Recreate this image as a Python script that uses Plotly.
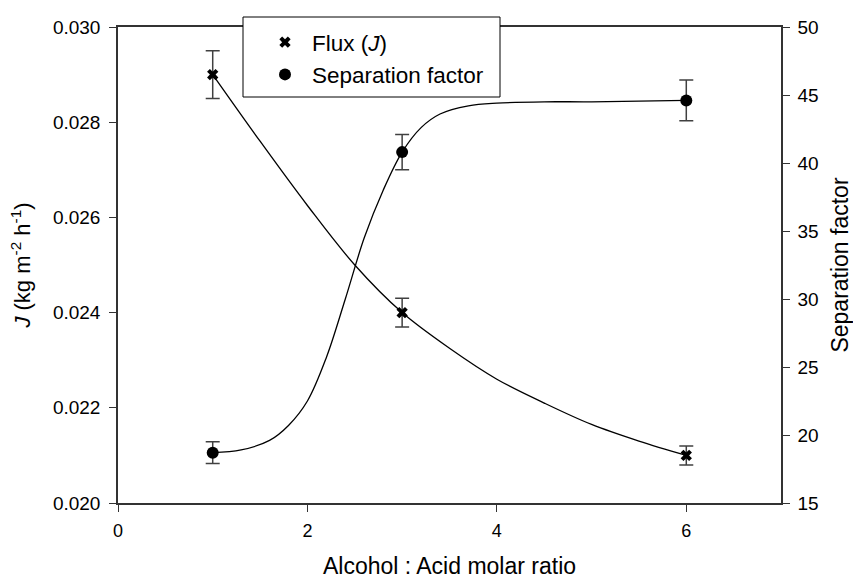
import plotly.graph_objects as go

# Measured data
ratio = [1, 3, 6]
flux = [0.029, 0.024, 0.021]
flux_err = [0.0005, 0.0003, 0.0002]
sep = [18.7, 40.8, 44.6]
sep_err = [0.8, 1.3, 1.5]

# Fitted curves
flux_curve_x = [1, 1.5, 2, 2.5, 3, 3.5, 4, 4.5, 5, 5.5, 6]
flux_curve_y = [0.029, 0.0276, 0.02625, 0.0250, 0.0240, 0.02325, 0.0226, 0.0221, 0.02165, 0.0213, 0.0210]
sep_curve_x = [1, 1.3, 1.6, 1.8, 2.0, 2.2, 2.4, 2.6, 2.8, 3.0, 3.2, 3.4, 3.7, 4.0, 4.5, 5, 6]
sep_curve_y = [18.7, 18.9, 19.6, 20.7, 22.5, 25.7, 30.0, 34.5, 38.0, 40.8, 42.6, 43.6, 44.2, 44.4, 44.5, 44.5, 44.6]

x_ticks = [0, 2, 4, 6]

FONT = "Liberation Sans, Arial, sans-serif"
AX = "#333333"

fig = go.Figure()

fig.add_trace(go.Scatter(x=flux_curve_x, y=flux_curve_y, mode="lines", line=dict(color="black", width=1.3, shape="spline"),
                         showlegend=False, hoverinfo="skip"))
fig.add_trace(go.Scatter(x=sep_curve_x, y=sep_curve_y, mode="lines", line=dict(color="black", width=1.3, shape="spline"),
                         yaxis="y2", showlegend=False, hoverinfo="skip"))

fig.add_trace(go.Scatter(x=ratio, y=flux, mode="markers", name="Flux (<i>J</i>)",
                         marker=dict(symbol="x", size=10, color="black", line=dict(width=0)),
                         error_y=dict(type="data", array=flux_err, color="#404040", thickness=1.5, width=7)))
fig.add_trace(go.Scatter(x=ratio, y=sep, mode="markers", name="Separation factor", yaxis="y2",
                         marker=dict(symbol="circle", size=12, color="black"),
                         error_y=dict(type="data", array=sep_err, color="#404040", thickness=1.5, width=7)))

# legend box
fig.add_shape(type="rect", xref="paper", yref="paper", x0=(243-118)/663, x1=(500-118)/663,
              y0=(503-97)/476, y1=(503-17)/476, fillcolor="white", line=dict(color="black", width=1), layer="above")

fig.update_layout(
    width=853, height=579,
    margin=dict(l=118, r=72, t=27, b=76, autoexpand=False),
    paper_bgcolor="white", plot_bgcolor="white",
    font=dict(family=FONT, size=18, color="black"),
    showlegend=True,
    legend=dict(x=(258-118)/663, y=(503-21)/476, xanchor="left", yanchor="top",
                bgcolor="rgba(0,0,0,0)", borderwidth=0, font=dict(size=22.5), tracegroupgap=0,
                itemwidth=44),
    xaxis=dict(range=[0, 7], tickvals=x_ticks, ticks="outside", ticklen=7, tickcolor=AX,
               showline=True, linecolor=AX, linewidth=1.5, mirror=True, showgrid=False, zeroline=False,
               title=dict(text="Alcohol : Acid molar ratio", font=dict(size=23), standoff=31),
               tickfont=dict(size=18), ticklabelstandoff=4, automargin=False),
    yaxis=dict(range=[0.020, 0.030], dtick=0.002, tickformat=".3f", ticks="outside", ticklen=7, tickcolor=AX,
               showline=True, linecolor=AX, linewidth=1.5, showgrid=False, zeroline=False,
               title=dict(text="<i>J</i> (kg m<sup>-2</sup> h<sup>-1</sup>)", font=dict(size=22), standoff=16),
               tickfont=dict(size=19), ticklabelstandoff=5, automargin=False),
    yaxis2=dict(range=[15, 50], dtick=5, overlaying="y", side="right", ticks="outside", ticklen=7, tickcolor=AX,
                showline=True, linecolor=AX, linewidth=1.5, showgrid=False, zeroline=False,
                title=dict(text="Separation factor", font=dict(size=23), standoff=22),
                tickfont=dict(size=19), ticklabelstandoff=4, automargin=False),
)

fig.write_html("out.html", config={"displayModeBar": False},
               post_script="document.body.style.margin='0';document.body.style.overflow='hidden';")
